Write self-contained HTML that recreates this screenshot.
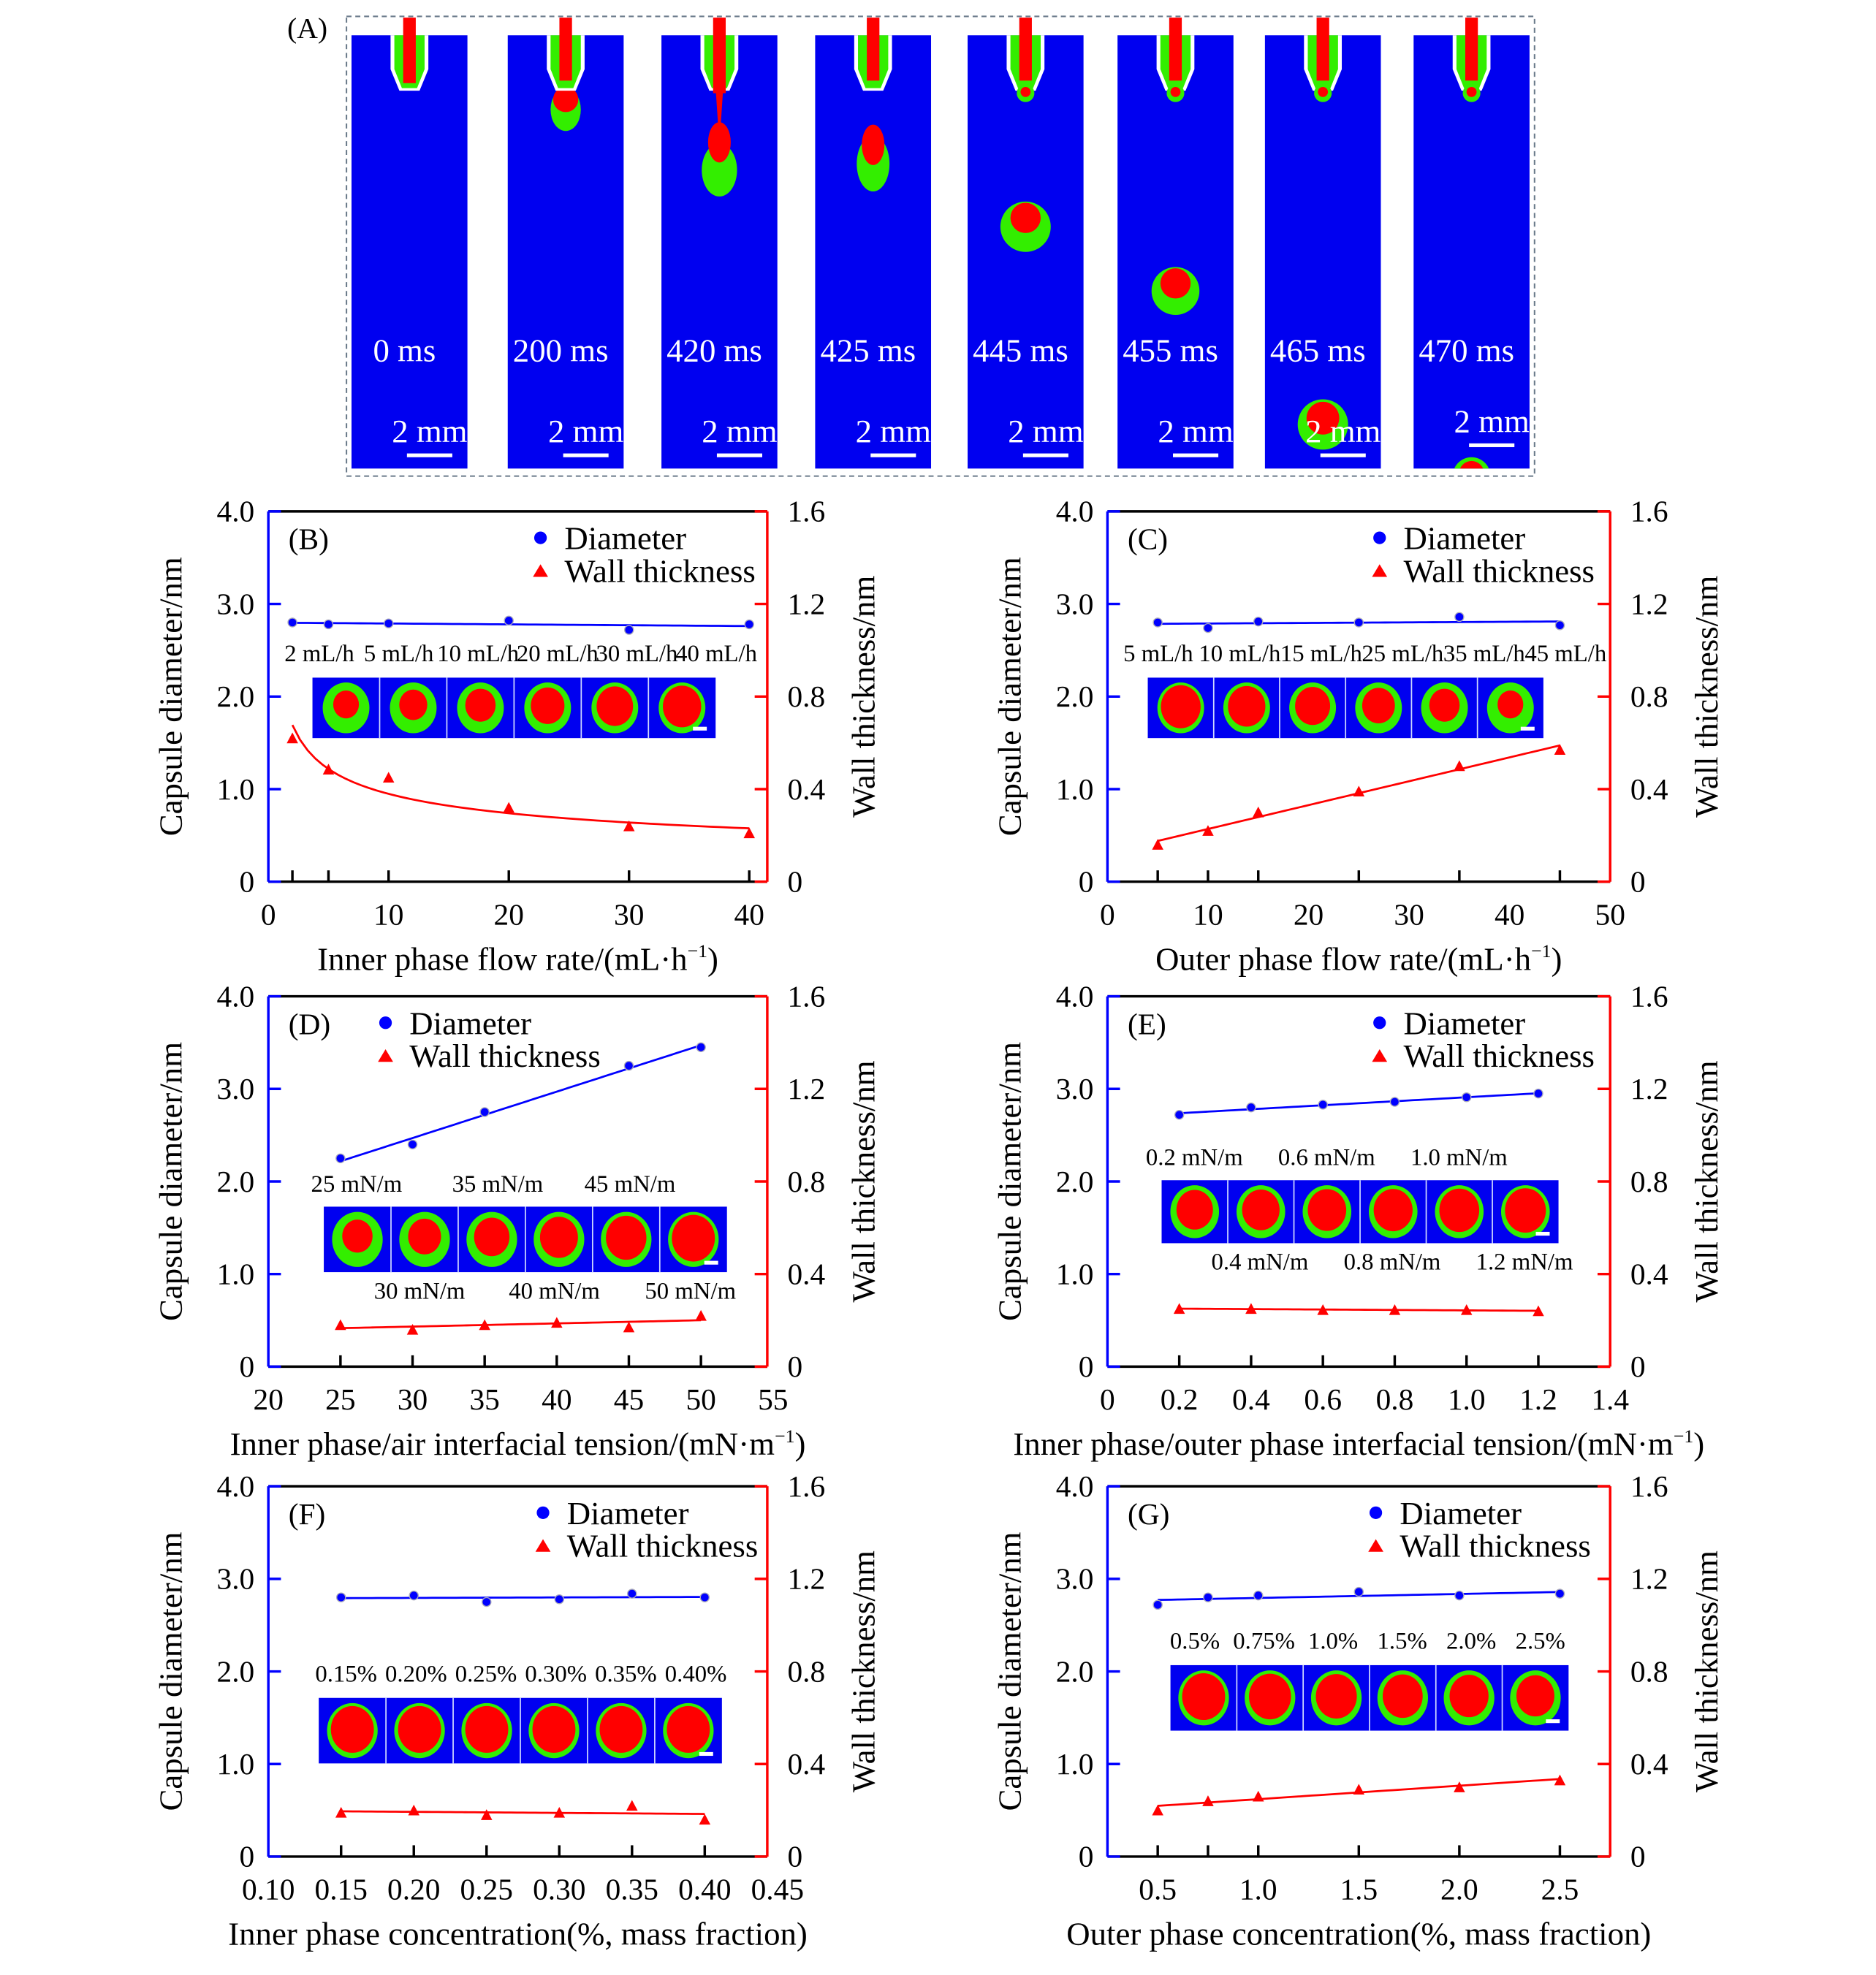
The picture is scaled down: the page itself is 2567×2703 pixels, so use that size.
<!DOCTYPE html>
<html><head><meta charset="utf-8"><style>
html,body{margin:0;padding:0;background:#fff;}
svg{display:block;font-family:"Liberation Serif",serif;}
</style></head><body>
<svg id="fig" xmlns="http://www.w3.org/2000/svg" width="2567" height="2703" viewBox="0 0 1489 1568" preserveAspectRatio="none">
<g id="panelA"></g>
<g id="charts"></g>
</svg>
<script>
// ---- data ----
const bX=[2,5,10,20,30,40];
const bDia=[2.8,2.78,2.79,2.82,2.72,2.78];
const bWall=[0.62,0.485,0.45,0.32,0.24,0.21];
const bXTicks=[0,10,20,30,40];
const bInset=["2 mL/h","5 mL/h","10 mL/h","20 mL/h","30 mL/h","40 mL/h"];

const cX=[5,10,15,25,35,45];
const cDia=[2.8,2.74,2.81,2.8,2.86,2.77];
const cWall=[0.16,0.22,0.3,0.39,0.5,0.57];
const cXTicks=[0,10,20,30,40,50];
const cInset=["5 mL/h","10 mL/h","15 mL/h","25 mL/h","35 mL/h","45 mL/h"];

const dDiaX=[25,30,35,45,50];
const dDia=[2.25,2.4,2.75,3.25,3.45];
const dX=[25,30,35,40,45,50];
const dWall=[0.18,0.16,0.18,0.19,0.17,0.22];
const dXTicks=[20,25,30,35,40,45,50,55];
const dInset=["25 mN/m","30 mN/m","35 mN/m","40 mN/m","45 mN/m","50 mN/m"];

const eX=[0.2,0.4,0.6,0.8,1.0,1.2];
const eDia=[2.72,2.8,2.83,2.86,2.91,2.95];
const eWall=[0.25,0.25,0.245,0.245,0.245,0.24];
const eXTicks=[0,0.2,0.4,0.6,0.8,1.0,1.2,1.4];
const eInset=["0.2 mN/m","0.4 mN/m","0.6 mN/m","0.8 mN/m","1.0 mN/m","1.2 mN/m"];

const fX=[0.15,0.20,0.25,0.30,0.35,0.40];
const fDia=[2.8,2.82,2.75,2.78,2.84,2.8];
const fWall=[0.19,0.2,0.18,0.19,0.22,0.16];
const fXTicks=[0.10,0.15,0.20,0.25,0.30,0.35,0.40,0.45];
const fInset=["0.15%","0.20%","0.25%","0.30%","0.35%","0.40%"];

const gX=[0.5,0.75,1.0,1.5,2.0,2.5];
const gDia=[2.72,2.8,2.82,2.86,2.82,2.84];
const gWall=[0.2,0.24,0.26,0.29,0.3,0.33];
const gXTicks=[0.5,1.0,1.5,2.0,2.5];
const gInset=["0.5%","0.75%","1.0%","1.5%","2.0%","2.5%"];

const yLeftTicks=[0,1,2,3,4];
const yRightTicks=[0,0.4,0.8,1.2,1.6];

const NS="http://www.w3.org/2000/svg";
function mk(parent,tag,attrs,text){const e=document.createElementNS(NS,tag);for(const k in attrs)e.setAttribute(k,attrs[k]);if(text!==undefined)e.textContent=text;parent.appendChild(e);return e;}

// ---- panel A ----
const A=document.getElementById('panelA');
let box=mk(A,'rect',{x:275,y:13,width:943,height:365,fill:'none',stroke:'#6a7a8a','stroke-width':1.2,'stroke-dasharray':'4 3'});

let la=mk(A,'text',{x:228,y:30,'font-size':23},'(A)');

const fx=[279,403,525,647,768,887,1004,1122];
const times=["0 ms","200 ms","420 ms","425 ms","445 ms","455 ms","465 ms","470 ms"];
const drops=[null,[87,12,17,79,10,10],[135,14,21,113,9,16],[130,13,22,115,9,16],[180,20,20,173,12,12],[231,19,19,225,12,12],[337,20,20,332,13,13],[378,15,15,376,10,10]];
A.insertAdjacentHTML('beforeend','<defs><clipPath id="clA"><rect x="0" y="28" width="1500" height="344"/></clipPath></defs>');
fx.forEach((x,i)=>{
  const g=mk(A,'g',{});
  
  
  mk(g,'rect',{x:x,y:28,width:92,height:344,fill:'#0000f0'});
  const c=x+46;
  const cg=mk(g,'g',{'clip-path':'url(#clA)'});
  if(drops[i]){const d=drops[i];mk(cg,'ellipse',{cx:c,cy:d[0],rx:d[1],ry:d[2],fill:'#33ee00'});mk(cg,'ellipse',{cx:c,cy:d[3],rx:d[4],ry:d[5],fill:'#ff0000'});}
  if(i==2){mk(cg,'polygon',{points:`${c-3},70 ${c+3},70 ${c+1},100 ${c+8},110 ${c-8},110 ${c-1},100`,fill:'#ff0000'});}
  mk(g,'polygon',{points:`${c-15},28 ${c+15},28 ${c+15},55 ${c+8},72 ${c-8},72 ${c-15},55`,fill:'#fff'});
  mk(g,'polygon',{points:`${c-12},28 ${c+12},28 ${c+12},55 ${c+6},70 ${c-6},70 ${c-12},55`,fill:'#33ee00'});
  mk(g,'rect',{x:c-5,y:14,width:10,height:i==0?52:(i==2?60:50),fill:'#ff0000'});
  if(i>=4){mk(g,'circle',{cx:c,cy:74,r:7,fill:'#33ee00'});mk(g,'circle',{cx:c,cy:73,r:4,fill:'#ff0000'});}
  mk(g,'text',{x:c-4,y:287,'font-size':26,fill:'#fff','text-anchor':'middle'},times[i]);
  const sy=i==7?343:351;
  mk(g,'text',{x:x+62,y:sy,'font-size':26,fill:'#fff','text-anchor':'middle'},'2 mm');
  mk(g,'rect',{x:x+44,y:i==7?352:360,width:36,height:3,fill:'#fff'});
});

// ---- charts ----
const C=document.getElementById('charts');
function linfit(xs,ys){const n=xs.length;let sx=0,sy=0,sxx=0,sxy=0;for(let i=0;i<n;i++){sx+=xs[i];sy+=ys[i];sxx+=xs[i]*xs[i];sxy+=xs[i]*ys[i];}const b=(n*sxy-sx*sy)/(n*sxx-sx*sx);const a=(sy-b*sx)/n;return x=>a+b*x;}
function powfit(xs,ys){const f=linfit(xs.map(Math.log),ys.map(Math.log));return x=>Math.exp(f(Math.log(x)));}

function chart(o){
  const g=mk(C,'g',{});
  
  
  const L=o.L,R=o.R,T=o.T,B=T+294;
  const sx=v=>L+(v-o.xa)/(o.xb-o.xa)*(R-L);
  const syL=v=>B-v/4*(B-T);
  const syR=v=>B-v/1.6*(B-T);
  mk(g,'line',{x1:L,y1:T,x2:R,y2:T,stroke:'#000','stroke-width':2});
  mk(g,'line',{x1:L,y1:B,x2:R,y2:B,stroke:'#000','stroke-width':2});
  mk(g,'line',{x1:L,y1:T,x2:L,y2:B,stroke:'#0000ff','stroke-width':2});
  mk(g,'line',{x1:R,y1:T,x2:R,y2:B,stroke:'#ff0000','stroke-width':2});
  yLeftTicks.forEach(v=>{mk(g,'line',{x1:L,y1:syL(v),x2:L+10,y2:syL(v),stroke:'#0000ff','stroke-width':2});
    let t=mk(g,'text',{x:L-11,y:syL(v)+8,'font-size':24,'text-anchor':'end'},v===0?'0':v.toFixed(1));});
  yRightTicks.forEach(v=>{mk(g,'line',{x1:R-10,y1:syR(v),x2:R,y2:syR(v),stroke:'#ff0000','stroke-width':2});
    let t=mk(g,'text',{x:R+16,y:syR(v)+8,'font-size':24},v===0?'0':v.toFixed(1));});
  o.ticks.forEach(v=>{let t=mk(g,'text',{x:sx(v),y:B+34,'font-size':24,'text-anchor':'middle'},o.tf(v));});
  o.wx.forEach(v=>mk(g,'line',{x1:sx(v),y1:B,x2:sx(v),y2:B-9,stroke:'#000','stroke-width':2}));
  let xt=mk(g,'text',{x:(L+R)/2,y:B+70,'font-size':26,'text-anchor':'middle'});xt.innerHTML=o.xt;
  
  let yl=mk(g,'text',{x:0,y:0,'font-size':26,'text-anchor':'middle',transform:`translate(${L-69},${(T+B)/2}) rotate(-90)`},'Capsule diameter/nm');
  
  let yr=mk(g,'text',{x:0,y:0,'font-size':26,'text-anchor':'middle',transform:`translate(${R+85},${(T+B)/2}) rotate(-90)`},'Wall thickness/nm');
  
  let pl=mk(g,'text',{x:L+16,y:T+30,'font-size':24},'('+o.id.toUpperCase()+')');
  
  const lg=mk(g,'g',{});
  const lx=o.lx;
  mk(lg,'circle',{cx:lx,cy:T+21,r:5,fill:'#0000ff'});
  mk(lg,'text',{x:lx+19,y:T+30,'font-size':26},'Diameter');
  mk(lg,'polygon',{points:`${lx-6},${T+52} ${lx+6},${T+52} ${lx},${T+42}`,fill:'#ff0000'});
  mk(lg,'text',{x:lx+19,y:T+56,'font-size':26},'Wall thickness');
  const ig=mk(g,'g',{});
  const iw=(o.ix2-o.ix1)/6, ih=o.iy2-o.iy1;
  mk(ig,'rect',{x:o.ix1,y:o.iy1,width:o.ix2-o.ix1,height:ih,fill:'#0000f0'});
  const lw=(o.lx2-o.lx1)/6;
  for(let k=0;k<6;k++){
    const cx=o.ix1+iw*(k+0.5), cy=o.iy1+ih/2;
    const rr=Math.min(iw,ih)*0.42;
    mk(ig,'ellipse',{cx:cx,cy:cy,rx:rr*0.92,ry:rr,fill:'#33ee00'});
    const ri=rr*o.inner[k];
    mk(ig,'ellipse',{cx:cx,cy:cy-(rr-ri)*0.3,rx:ri*0.92,ry:ri,fill:'#ff0000'});
    if(k>0)mk(ig,'line',{x1:o.ix1+iw*k,y1:o.iy1,x2:o.ix1+iw*k,y2:o.iy2,stroke:'#cfd8ff','stroke-width':1});
    let t;
    const lcx=o.lx1+lw*(k+0.5);
    if(o.alt){const up=k%2==0;t=mk(ig,'text',{x:o.lpos[k],y:up?o.iy1-12:o.iy2+21,'font-size':19,'text-anchor':'middle'},o.labels[k]);}
    else t=mk(ig,'text',{x:lcx,y:o.iy1-13,'font-size':o.lfs||19,'text-anchor':'middle'},o.labels[k]);
    
  }
  mk(ig,'rect',{x:o.ix2-18,y:o.iy2-9,width:11,height:3,fill:'#fff'});
  const fd=linfit(o.dx,o.dia);
  const fw=o.pow?powfit(o.wx,o.wall):linfit(o.wx,o.wall);
  const x0=Math.min(...o.wx), x1=Math.max(...o.wx);
  const d0=Math.min(...o.dx), d1=Math.max(...o.dx);
  let p='';for(let i=0;i<=60;i++){const v=d0+(d1-d0)*i/60;p+=(i?'L':'M')+sx(v)+','+syL(fd(v));}
  let dl=mk(g,'path',{d:p,fill:'none',stroke:'#0000ff','stroke-width':1.6});
  p='';for(let i=0;i<=60;i++){const v=x0+(x1-x0)*i/60;p+=(i?'L':'M')+sx(v)+','+syR(fw(v));}
  let wl=mk(g,'path',{d:p,fill:'none',stroke:'#ff0000','stroke-width':1.6});
  o.dx.forEach((v,i)=>{let c=mk(g,'circle',{cx:sx(v),cy:syL(o.dia[i]),r:3.5,fill:'#0000ff',stroke:'#aab','stroke-width':0.8});});
  o.wx.forEach((v,i)=>{const x=sx(v),y=syR(o.wall[i]);let t=mk(g,'polygon',{points:`${x-4.5},${y+4} ${x+4.5},${y+4} ${x},${y-4.5}`,fill:'#ff0000'});});
}
const t0=v=>String(v), t1=v=>v===0?'0':v.toFixed(1), t2=v=>v.toFixed(2);
const sup='<tspan font-size="15" dy="-10">−1</tspan><tspan dy="10">)</tspan>';
chart({id:'b',L:213,R:609,T:406,xa:0,xb:41.5,ticks:bXTicks,tf:t0,dx:bX,dia:bDia,wx:bX,wall:bWall,pow:true,lx:429,ix1:248,ix2:568,iy1:538,iy2:586,lx1:222,lx2:600,labels:bInset,inner:[0.55,0.6,0.65,0.72,0.78,0.82],xt:'Inner phase flow rate/(mL·h'+sup});
chart({id:'c',L:879,R:1278,T:406,xa:0,xb:50,ticks:cXTicks,tf:t0,dx:cX,dia:cDia,wx:cX,wall:cWall,lx:1095,ix1:911,ix2:1225,iy1:538,iy2:586,lx1:887,lx2:1275,labels:cInset,inner:[0.85,0.8,0.75,0.7,0.65,0.55],xt:'Outer phase flow rate/(mL·h'+sup});
chart({id:'d',L:213,R:609,T:791,xa:20,xb:54.6,ticks:dXTicks,tf:t0,dx:dDiaX,dia:dDia,wx:dX,wall:dWall,lx:306,ix1:257,ix2:577,iy1:958,iy2:1010,labels:dInset,alt:true,lpos:[283,333,395,440,500,548],inner:[0.6,0.65,0.7,0.75,0.8,0.85],xt:'Inner phase/air interfacial tension/(mN·m'+sup});
chart({id:'e',L:879,R:1278,T:791,xa:0,xb:1.4,ticks:eXTicks,tf:t1,dx:eX,dia:eDia,wx:eX,wall:eWall,lx:1095,ix1:922,ix2:1237,iy1:937,iy2:987,labels:eInset,alt:true,lpos:[948,1000,1053,1105,1158,1210],inner:[0.75,0.77,0.79,0.8,0.82,0.84],xt:'Inner phase/outer phase interfacial tension/(mN·m'+sup});
chart({id:'f',L:213,R:609,T:1180,xa:0.10,xb:0.443,ticks:fXTicks,tf:t2,dx:fX,dia:fDia,wx:fX,wall:fWall,lx:431,ix1:253,ix2:573,iy1:1348,iy2:1400,lx1:247,lx2:580,labels:fInset,inner:[0.85,0.85,0.85,0.85,0.85,0.85],xt:'Inner phase concentration(%, mass fraction)'});
chart({id:'g',L:879,R:1278,T:1180,xa:0.25,xb:2.75,ticks:gXTicks,tf:t1,dx:gX,dia:gDia,wx:gX,wall:gWall,lx:1092,ix1:929,ix2:1245,iy1:1322,iy2:1374,lx1:921,lx2:1250,labels:gInset,inner:[0.85,0.83,0.81,0.79,0.77,0.75],xt:'Outer phase concentration(%, mass fraction)'});
</script>
</body></html>
